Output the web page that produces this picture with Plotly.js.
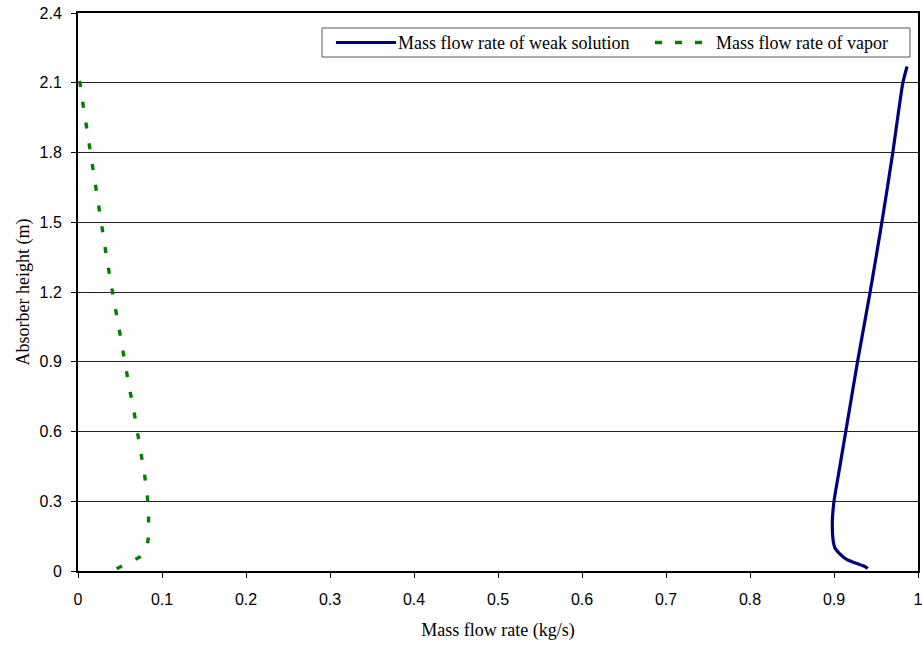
<!DOCTYPE html>
<html>
<head>
<meta charset="utf-8">
<script src="https://cdn.plot.ly/plotly-3.0.1.min.js"></script>
<style>html,body{margin:0;padding:0;background:#fff;}#chart{width:922px;height:646px;}</style>
</head>
<body>
<div id="chart"></div>
<script>
// Mass flow rate of weak solution (kg/s) vs absorber height (m)
var weakFlow   = [0.940, 0.938, 0.925, 0.915, 0.906, 0.901, 0.899, 0.898, 0.900, 0.907, 0.914, 0.928, 0.933, 0.943, 0.957, 0.970, 0.982, 0.987];
var weakHeight = [0.010, 0.017, 0.035, 0.050, 0.077, 0.100, 0.130, 0.210, 0.300, 0.450, 0.600, 0.900, 1.000, 1.200, 1.500, 1.800, 2.100, 2.170];

// Mass flow rate of vapor (kg/s) vs absorber height (m)
var vaporFlow   = [0.046, 0.060, 0.073, 0.082, 0.084, 0.084, 0.0825, 0.079, 0.0746, 0.0706, 0.066, 0.061, 0.0567, 0.0516, 0.0476, 0.0429, 0.038, 0.034, 0.030, 0.026, 0.022, 0.018, 0.014, 0.0103, 0.0063, 0.0024, 0.001];
var vaporHeight = [0.010, 0.035, 0.059, 0.100, 0.150, 0.237, 0.327, 0.420, 0.516, 0.610, 0.700, 0.790, 0.886, 0.980, 1.070, 1.160, 1.259, 1.350, 1.445, 1.535, 1.630, 1.720, 1.820, 1.910, 2.000, 2.100, 2.115];

var seriesNames = ["Mass flow rate of weak solution", "Mass flow rate of vapor"];
var xTicks = [0, 0.1, 0.2, 0.3, 0.4, 0.5, 0.6, 0.7, 0.8, 0.9, 1];
var xTickText = ["0", "0.1", "0.2", "0.3", "0.4", "0.5", "0.6", "0.7", "0.8", "0.9", "1"];
var yTicks = [0, 0.3, 0.6, 0.9, 1.2, 1.5, 1.8, 2.1, 2.4];
var yTickText = ["0", "0.3", "0.6", "0.9", "1.2", "1.5", "1.8", "2.1", "2.4"];

var colors = ["#000080", "#008000"];
var serif = "Liberation Serif, Times New Roman, serif";
var sans = "Liberation Sans, Arial, sans-serif";

var traces = [
  {x: weakFlow, y: weakHeight, name: seriesNames[0], mode: "lines", type: "scatter",
   line: {color: colors[0], width: 3.2, shape: "spline", smoothing: 0.6}, showlegend: false},
  {x: vaporFlow, y: vaporHeight, name: seriesNames[1], mode: "lines", type: "scatter",
   line: {color: colors[1], width: 3.4, dash: "6px,15px"}, showlegend: false}
];

// legend box drawn in paper coordinates
var lg = {x0: 0.2905, x1: 0.9905, y0: 0.9211, y1: 0.9731, yc: 0.9471};
var shapes = [
  {type: "rect", xref: "paper", yref: "paper", x0: lg.x0, x1: lg.x1, y0: lg.y0, y1: lg.y1,
   line: {color: "#555", width: 1}, fillcolor: "#fff", layer: "above"},
  {type: "line", xref: "paper", yref: "paper", x0: 0.3071, x1: 0.3786, y0: lg.yc, y1: lg.yc,
   line: {color: colors[0], width: 3.2}, layer: "above"},
  {type: "line", xref: "paper", yref: "paper", x0: 0.6869, x1: 0.7524, y0: lg.yc, y1: lg.yc,
   line: {color: colors[1], width: 3.4, dash: "7px,13px"}, layer: "above"}
];
var annotations = [
  {xref: "paper", yref: "paper", x: 0.3780, y: lg.yc, xanchor: "left", yanchor: "middle",
   text: seriesNames[0], showarrow: false, font: {family: serif, size: 18, color: "#000"}},
  {xref: "paper", yref: "paper", x: 0.7570, y: lg.yc, xanchor: "left", yanchor: "middle",
   text: seriesNames[1], showarrow: false, font: {family: serif, size: 18, color: "#000"}}
];

var layout = {
  width: 922, height: 646,
  margin: {l: 78, r: 4, t: 13, b: 75},
  paper_bgcolor: "#fff", plot_bgcolor: "#fff",
  showlegend: false,
  shapes: shapes,
  annotations: annotations,
  xaxis: {
    range: [0, 1], autorange: false, tickmode: "array", tickvals: xTicks, ticktext: xTickText,
    showgrid: false, zeroline: false, ticklabeloverflow: "allow",
    showline: true, linecolor: "#000", linewidth: 2, mirror: true,
    ticks: "outside", ticklen: 5, tickcolor: "#000", tickwidth: 1, ticklabelstandoff: 8,
    tickfont: {family: sans, size: 16, color: "#000"},
    title: {text: "Mass flow rate (kg/s)", standoff: 16,
            font: {family: serif, size: 18, color: "#000"}}
  },
  yaxis: {
    range: [0, 2.4], autorange: false, tickmode: "array", tickvals: yTicks, ticktext: yTickText,
    showgrid: true, gridcolor: "#222", gridwidth: 1, zeroline: false,
    showline: true, linecolor: "#000", linewidth: 2, mirror: true,
    ticks: "outside", ticklen: 5, tickcolor: "#000", tickwidth: 1, ticklabelstandoff: 6,
    tickfont: {family: sans, size: 16, color: "#000"},
    title: {text: "Absorber height (m)", standoff: 5,
            font: {family: serif, size: 18, color: "#000"}}
  }
};

Plotly.newPlot("chart", traces, layout, {displayModeBar: false, staticPlot: true});
</script>
</body>
</html>
